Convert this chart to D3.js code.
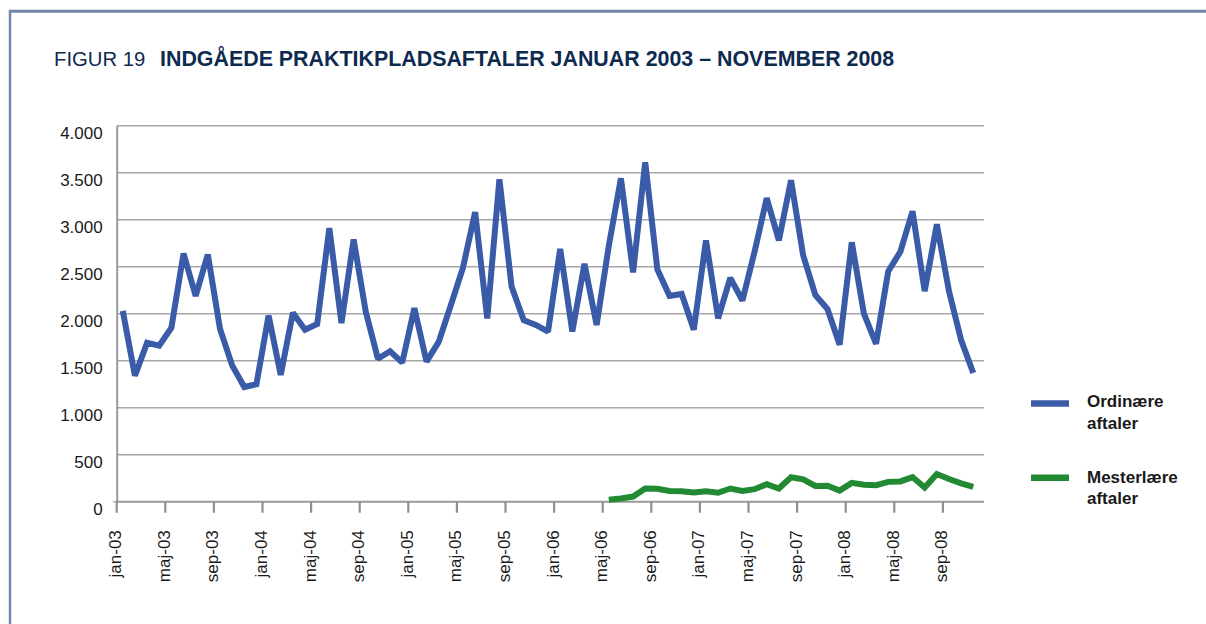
<!DOCTYPE html>
<html>
<head>
<meta charset="utf-8">
<script src="https://cdn.jsdelivr.net/npm/d3@7"></script>
<style>
  html, body { margin: 0; padding: 0; background: #fff; }
  svg { display: block; }
  text { font-family: "Liberation Sans", Arial, Helvetica, sans-serif; }
</style>
</head>
<body>
<svg id="chart" width="1206" height="624"></svg>
<script>
// ---- data ----
const monthNames = ["jan","feb","mar","apr","maj","jun","jul","aug","sep","okt","nov","dec"];
const years = ["03","04","05","06","07","08"];
const lastMonthIndex = 70; // nov-08
const categories = [];
years.forEach(y => monthNames.forEach(m => categories.push(m + "-" + y)));
categories.length = lastMonthIndex + 1;

const ordinaere = [
  2030, 1340, 1690, 1660, 1850, 2640, 2190, 2630, 1840, 1450,
  1220, 1250, 1980, 1350, 2010, 1830, 1890, 2910, 1900, 2790,
  2020, 1520, 1600, 1480, 2060, 1490, 1700, 2090, 2490, 3080,
  1950, 3430, 2290, 1930, 1880, 1810, 2690, 1810, 2530, 1880,
  2720, 3440, 2440, 3610, 2470, 2190, 2210, 1830, 2780, 1950,
  2380, 2140, 2660, 3230, 2780, 3420, 2620, 2200, 2050, 1670,
  2760, 2000, 1680, 2450, 2660, 3090, 2240, 2950, 2240, 1720,
  1370
];
const mesterStart = 40; // maj-06
const mesterlaere = [
  20, 35, 55, 140, 137, 115, 112, 98, 112, 95,
  140, 115, 133, 186, 140, 260, 238, 168, 170, 118,
  200, 180, 176, 211, 216, 262, 150, 295, 242, 196,
  158
];
const yTicks = [0, 500, 1000, 1500, 2000, 2500, 3000, 3500, 4000];
const tickEvery = 4;
const seriesNames = [["Ordinære", "aftaler"], ["Mesterlære", "aftaler"]];
const colors = ["#3a5ba8", "#228a33"];

// ---- layout ----
const svg = d3.select("#chart");
const plotL = 116.7, plotR = 984, plotT = 125.7, plotB = 501.7;
const step = 12.15;

const x = d3.scaleBand().domain(categories)
  .range([plotL, plotL + categories.length * step]).paddingInner(0).paddingOuter(0);
const bw = x.bandwidth();
const cx = c => x(c) + bw / 2;
const y = d3.scaleLinear().domain([0, 4000]).range([plotB, plotT]);

const fmt = d3.formatLocale({decimal: ",", thousands: ".", grouping: [3], currency: ["", ""]}).format(",");

// frame
svg.append("line").attr("x1", 9).attr("x2", 1206).attr("y1", 11.3).attr("y2", 11.3)
  .attr("stroke", "#7189a9").attr("stroke-width", 3);
svg.append("line").attr("x1", 10).attr("x2", 10).attr("y1", 10).attr("y2", 624)
  .attr("stroke", "#7189a9").attr("stroke-width", 2.5);

// title
svg.append("text").attr("x", 54).attr("y", 65.7).attr("fill", "#0d2a4f")
  .attr("font-size", 20.3).text("FIGUR 19");
svg.append("text").attr("x", 160).attr("y", 65.7).attr("fill", "#0d2a4f")
  .attr("font-size", 21.4).attr("font-weight", "bold")
  .text("INDGÅEDE PRAKTIKPLADSAFTALER JANUAR 2003 – NOVEMBER 2008");

// gridlines
svg.append("g").selectAll("line").data(yTicks.filter(d => d > 0)).join("line")
  .attr("x1", plotL).attr("x2", plotR)
  .attr("y1", d => y(d)).attr("y2", d => y(d))
  .attr("stroke", "#a7a7a7").attr("stroke-width", 1.5);

// y axis
const yAxis = svg.append("g").attr("transform", `translate(${plotL},0)`)
  .call(d3.axisLeft(y).tickValues(yTicks).tickFormat(fmt).tickSize(0).tickPadding(14));
yAxis.select(".domain").attr("stroke", "#9a9a9a").attr("stroke-width", 2);
yAxis.selectAll("text").attr("font-size", 17).attr("fill", "#1a1a1a")
  .attr("dy", null).attr("y", 12.5).attr("font-family", '"Liberation Sans", Arial, sans-serif');
svg.append("line").attr("x1", plotL - 4).attr("x2", plotL).attr("y1", plotB).attr("y2", plotB)
  .attr("stroke", "#bbbbbb").attr("stroke-width", 1.5);

// x axis line
svg.append("line").attr("x1", plotL - 1).attr("x2", plotR).attr("y1", plotB).attr("y2", plotB)
  .attr("stroke", "#9a9a9a").attr("stroke-width", 2);

// x axis ticks + labels
const xAxis = svg.append("g").attr("transform", `translate(${-bw / 2},${plotB})`)
  .call(d3.axisBottom(x).tickValues(categories.filter((d, i) => i % tickEvery === 0))
    .tickSize(11).tickSizeOuter(0));
xAxis.select(".domain").remove();
xAxis.selectAll(".tick line").attr("stroke", "#8f8f8f").attr("stroke-width", 2.2);
xAxis.selectAll(".tick text")
  .attr("font-size", 17).attr("fill", "#1a1a1a")
  .attr("font-family", '"Liberation Sans", Arial, sans-serif')
  .attr("text-anchor", "end").attr("dy", null).attr("y", 0)
  .attr("transform", "translate(4.5,28.5) rotate(-90)");

// lines
const blueLine = d3.line().x((d, i) => cx(categories[i])).y(d => y(d));
svg.append("path").datum(ordinaere).attr("d", blueLine)
  .attr("fill", "none").attr("stroke", colors[0]).attr("stroke-width", 6)
  .attr("stroke-linejoin", "miter").attr("stroke-miterlimit", 1.6);

const greenLine = d3.line().x((d, i) => cx(categories[mesterStart + i])).y(d => y(d));
svg.append("path").datum(mesterlaere).attr("d", greenLine)
  .attr("fill", "none").attr("stroke", colors[1]).attr("stroke-width", 6)
  .attr("stroke-linejoin", "miter").attr("stroke-miterlimit", 1.6);

// legend
const legY = [403.5, 477.7];
const legTextY = [[406.5, 429], [482.5, 504]];
seriesNames.forEach((lines, k) => {
  svg.append("line").attr("x1", 1031).attr("x2", 1069).attr("y1", legY[k]).attr("y2", legY[k])
    .attr("stroke", colors[k]).attr("stroke-width", 6.5);
  const t = svg.append("text").attr("font-size", 17).attr("font-weight", "bold").attr("fill", "#1a1a1a");
  lines.forEach((ln, j) => t.append("tspan").attr("x", 1087).attr("y", legTextY[k][j]).text(ln));
});
</script>
</body>
</html>
